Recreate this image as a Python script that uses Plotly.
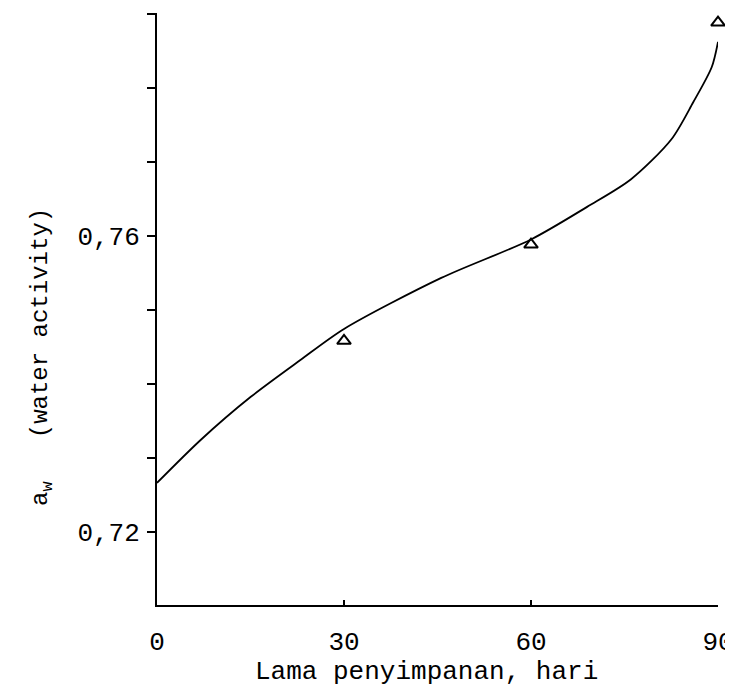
import plotly.graph_objects as go

# Curve (storage days vs water activity)
curve_days = [0, 7, 15, 23, 30, 45.6, 60, 69, 76, 82.5, 86, 89, 90]
curve_aw = [0.7266, 0.7324, 0.7382, 0.7432, 0.7474, 0.7543, 0.7595, 0.7639, 0.7676, 0.7730, 0.7780, 0.7828, 0.7862]

# Observed points (triangles)
obs_days = [30, 60, 90]
obs_aw = [0.7458, 0.7588, 0.7888]

x_ticks = [0, 30, 60, 90]
x_ticktext = ["0", "30", "60", "90"]
y_ticks = [0.72, 0.76]
y_ticktext = ["0,72", "0,76"]

FONT = "Liberation Mono"

fig = go.Figure()
fig.add_trace(go.Scatter(
    x=curve_days, y=curve_aw, mode="lines",
    line=dict(color="black", width=1.8, shape="spline", smoothing=0.8),
    hoverinfo="skip", showlegend=False, cliponaxis=False))
fig.add_trace(go.Scatter(
    x=obs_days, y=obs_aw, mode="markers",
    marker=dict(symbol="triangle-up-open", size=12, color="black", line=dict(width=2)),
    showlegend=False, cliponaxis=False))

fig.update_layout(
    width=725, height=687,
    margin=dict(l=149, r=15, t=5, b=90),
    paper_bgcolor="white", plot_bgcolor="white",
    font=dict(family=FONT, size=26, color="black"),
    xaxis=dict(range=[0, 90], tickvals=x_ticks, ticktext=x_ticktext,
               showgrid=False, zeroline=False, showline=True, linecolor="black", linewidth=2,
               ticks="inside", ticklen=5, tickwidth=2, tickcolor="black",
               ticklabeloverflow="allow", automargin=False,
               ticklabelstandoff=12, tickfont=dict(family=FONT, size=26)),
    yaxis=dict(range=[0.7101, 0.7901], tickvals=y_ticks, ticktext=y_ticktext,
               showgrid=False, zeroline=False, showline=True, linecolor="black", linewidth=2,
               ticks="outside", ticklen=8, tickwidth=2, tickcolor="black",
               automargin=False,
               minor=dict(ticks="outside", tick0=0.72, dtick=0.01, ticklen=8,
                          tickwidth=2, tickcolor="black", showgrid=False),
               ticklabelstandoff=2, tickfont=dict(family=FONT, size=26)),
    annotations=[
        dict(text="Lama penyimpanan, hari", xref="paper", yref="paper",
             x=0.481, y=-0.113, showarrow=False, font=dict(family=FONT, size=26),
             xanchor="center", yanchor="middle"),
        dict(text="a<sub>w</sub>   (water activity)", xref="paper", yref="paper",
             x=-0.205, y=0.419, showarrow=False, textangle=-90,
             font=dict(family=FONT, size=24), xanchor="center", yanchor="middle"),
    ],
)

fig.write_html("out.html")
